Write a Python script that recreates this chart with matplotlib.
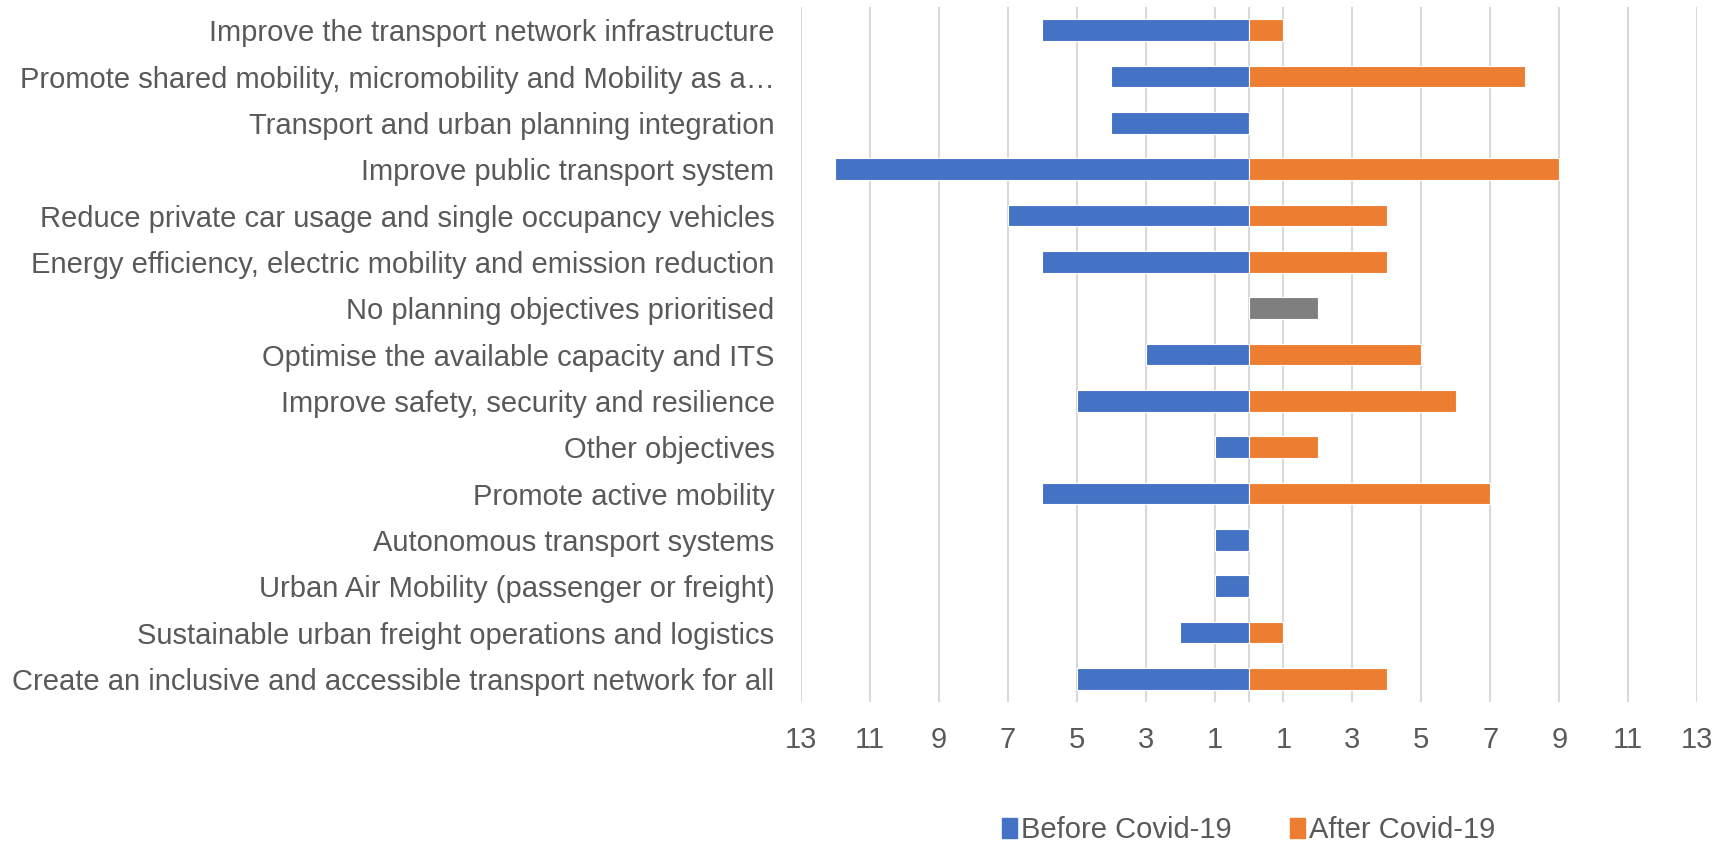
import numpy as np
import matplotlib.pyplot as plt
from matplotlib.ticker import FixedLocator, FuncFormatter

plt.rcParams['font.family'] = ['Liberation Sans', 'DejaVu Sans']

# Data (top to bottom as shown)
objectives = [
    'Improve the transport network infrastructure',
    'Promote shared mobility, micromobility and Mobility as a\u2026',
    'Transport and urban planning integration',
    'Improve public transport system',
    'Reduce private car usage and single occupancy vehicles',
    'Energy efficiency, electric mobility and emission reduction',
    'No planning objectives prioritised',
    'Optimise the available capacity and ITS',
    'Improve safety, security and resilience',
    'Other objectives',
    'Promote active mobility',
    'Autonomous transport systems',
    'Urban Air Mobility (passenger or freight)',
    'Sustainable urban freight operations and logistics',
    'Create an inclusive and accessible transport network for all',
]
before_covid = [6, 4, 4, 12, 7, 6, 0, 3, 5, 1, 6, 1, 1, 2, 5]
after_covid = [1, 8, 0, 9, 4, 4, 2, 5, 6, 2, 7, 0, 0, 1, 4]
highlight = 'No planning objectives prioritised'  # drawn in grey

BLUE = '#4472C4'
ORANGE = '#ED7D31'
GREY = '#7F7F7F'
TEXT = '#595959'
FS = 21

fig = plt.figure(figsize=(17.31, 8.44), dpi=100)
ax = fig.add_axes([0.4627, 0.1682, 0.5177, 0.8235])

y = np.arange(len(objectives))
after_colors = [GREY if o == highlight else ORANGE for o in objectives]

ax.barh(y, [-v for v in before_covid], height=0.47, color=BLUE,
        edgecolor='white', linewidth=0.8, label='Before Covid-19', zorder=3)
ax.barh(y, after_covid, height=0.47, color=after_colors,
        edgecolor='white', linewidth=0.8, label='After Covid-19', zorder=3)

ax.set_xlim(-13, 13)
ax.set_ylim(len(objectives) - 0.5, -0.5)

ticks = np.arange(-13, 14, 2)
ax.xaxis.set_major_locator(FixedLocator(ticks))
ax.xaxis.set_major_formatter(FuncFormatter(lambda v, p: f'{abs(int(round(v)))}'))
ax.grid(axis='x', color='#D9D9D9', linewidth=1.5, zorder=0)
ax.axvline(0, color='#D9D9D9', linewidth=1.5, zorder=0)

ax.set_yticks(y)
ax.set_yticklabels(objectives)
ax.tick_params(axis='both', length=0, labelsize=FS, labelcolor=TEXT)
ax.tick_params(axis='x', pad=17)
ax.tick_params(axis='y', pad=19)

for s in ax.spines.values():
    s.set_visible(False)

handles = [plt.Rectangle((0, 0), 1, 1, color=BLUE),
           plt.Rectangle((0, 0), 1, 1, color=ORANGE)]
leg = fig.legend(handles, ['Before Covid-19', 'After Covid-19'],
                 loc='center', bbox_to_anchor=(0.7215, 0.0166), ncol=2,
                 frameon=False, fontsize=FS, handlelength=0.5, handleheight=0.7,
                 handletextpad=0.15, columnspacing=2.0, borderpad=0)
for t in leg.get_texts():
    t.set_color(TEXT)

fig.savefig('out.png', dpi=100)
